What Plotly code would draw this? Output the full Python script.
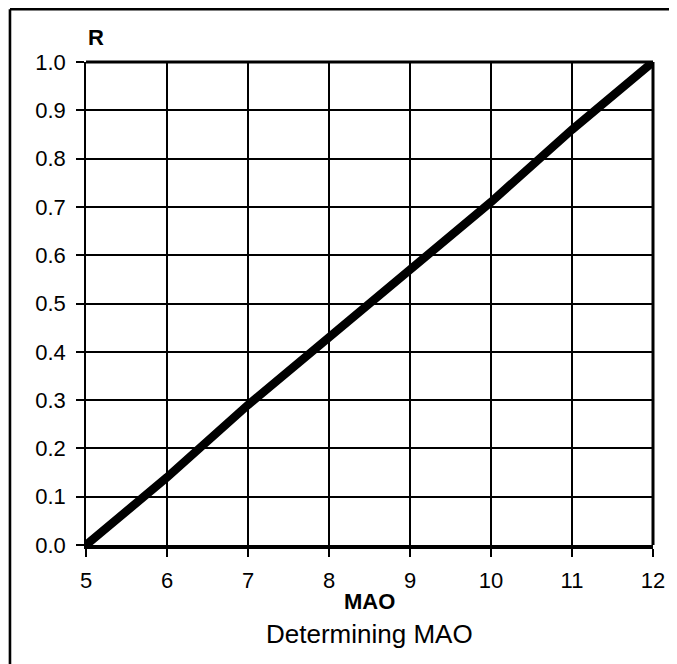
import plotly.graph_objects as go

# Data
mao = [5, 6, 7, 8, 9, 10, 11, 12]
r_values = [0.0, 0.14, 0.29, 0.43, 0.57, 0.71, 0.86, 1.0]

x_ticks = [5, 6, 7, 8, 9, 10, 11, 12]
y_ticks = [0.0, 0.1, 0.2, 0.3, 0.4, 0.5, 0.6, 0.7, 0.8, 0.9, 1.0]
y_tick_labels = ["0.0", "0.1", "0.2", "0.3", "0.4", "0.5", "0.6", "0.7", "0.8", "0.9", "1.0"]

FONT = "Liberation Sans, Arial, sans-serif"

OFF = 8  # page body margin
W, H = 677 - OFF, 664 - OFF
L, T = 86 - OFF, 62 - OFF
R = 677 - 658
B = 664 - 545
pw = W - L - R
ph = H - T - B

def px_to_paper_x(px):
    # px in screen coordinates
    return (px - OFF - L) / pw

def px_to_paper_y(py):
    return (H - B - (py - OFF)) / ph

fig = go.Figure()
fig.add_trace(go.Scatter(
    x=mao, y=r_values, mode="lines",
    line=dict(color="black", width=8.5),
    showlegend=False, hoverinfo="skip",
))

fig.update_layout(
    width=W, height=H,
    margin=dict(l=L, r=R, t=T, b=B, pad=0),
    paper_bgcolor="white", plot_bgcolor="white",
    font=dict(family=FONT, color="black", size=22),
    showlegend=False,
    xaxis=dict(
        range=[5, 12], tickvals=x_ticks, ticktext=[str(v) for v in x_ticks],
        showgrid=True, gridcolor="black", gridwidth=1.5,
        showline=True, linecolor="black", linewidth=4, mirror=False,
        ticks="outside", ticklen=8, tickwidth=2, tickcolor="black",
        ticklabelstandoff=5,
        tickfont=dict(size=22, family=FONT),
        zeroline=False, fixedrange=True,
    ),
    yaxis=dict(
        range=[0, 1], tickvals=y_ticks, ticktext=y_tick_labels,
        showgrid=True, gridcolor="black", gridwidth=1.5,
        showline=True, linecolor="black", linewidth=1.5, mirror=False,
        ticks="outside", ticklen=8, tickwidth=2, tickcolor="black",
        ticklabelstandoff=6,
        tickfont=dict(size=22, family=FONT),
        zeroline=False, fixedrange=True,
    ),
)

# Top and right plot borders (thicker)
fig.add_shape(type="line", xref="paper", yref="paper", x0=0, x1=1, y0=1, y1=1,
              line=dict(color="black", width=3))
fig.add_shape(type="line", xref="paper", yref="paper", x0=1, x1=1, y0=0, y1=1,
              line=dict(color="black", width=3))

# Outer frame: only the left and top edges are inside the picture
fx = px_to_paper_x(OFF + 1.3)
fy = px_to_paper_y(OFF + 1.3)
fig.add_shape(type="line", xref="paper", yref="paper",
              x0=fx, x1=fx, y0=px_to_paper_y(664 + 20), y1=fy,
              line=dict(color="black", width=2.6))
fig.add_shape(type="line", xref="paper", yref="paper",
              x0=fx, x1=px_to_paper_x(677 + 20), y0=fy, y1=fy,
              line=dict(color="black", width=2.6))

# Axis labels and caption
fig.add_annotation(text="<b>R</b>", xref="paper", yref="paper",
                   x=px_to_paper_x(86), y=px_to_paper_y(38),
                   xanchor="left", yanchor="middle", showarrow=False,
                   font=dict(size=22, family=FONT))
fig.add_annotation(text="<b>MAO</b>", xref="paper", yref="paper",
                   x=0.5, y=px_to_paper_y(601),
                   xanchor="center", yanchor="middle", showarrow=False,
                   font=dict(size=22, family=FONT))
fig.add_annotation(text="Determining MAO", xref="paper", yref="paper",
                   x=0.5, y=px_to_paper_y(634),
                   xanchor="center", yanchor="middle", showarrow=False,
                   font=dict(size=26, family=FONT))

fig.write_html("out.html")
